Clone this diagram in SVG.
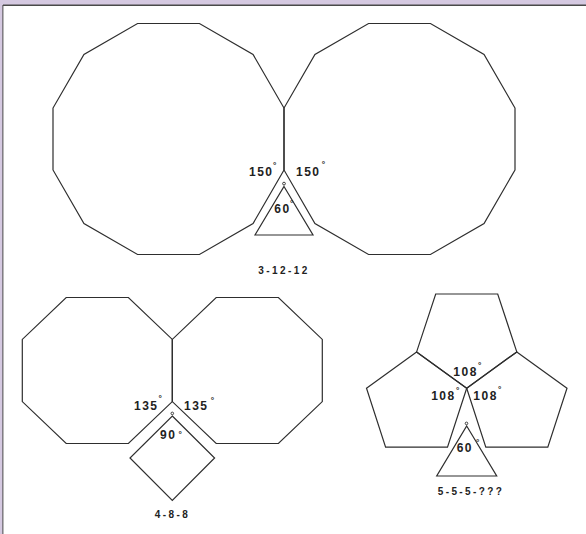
<svg xmlns="http://www.w3.org/2000/svg" width="586" height="534" viewBox="0 0 586 534">
<style>
.sh{fill:none;stroke:#2e2e2e;stroke-width:1.2;stroke-linejoin:miter}
.lb{font-family:"Liberation Sans",Arial,sans-serif;font-size:12px;font-weight:bold;fill:#222;letter-spacing:1.5px}
.cap{font-family:"Liberation Sans",Arial,sans-serif;font-size:10px;font-weight:bold;fill:#222;letter-spacing:2.4px;text-anchor:middle}
.dg{font-size:8.5px;letter-spacing:0}
.dot{fill:none;stroke:#2e2e2e;stroke-width:0.9}
</style>
<rect x="0" y="0" width="586" height="534" fill="#d5c9e1"/>
<rect x="3" y="5.5" width="583" height="528.5" fill="#ffffff"/>
<line x1="3" y1="5.3" x2="586" y2="5.3" stroke="#4a4a4a" stroke-width="1.6"/>
<line x1="2.9" y1="5" x2="2.9" y2="534" stroke="#4a4a4a" stroke-width="1"/>

<g id="fig-3-12-12">
<g id="dodecagon-left"><polygon class="sh" points="284,169.95 253.05,223.55 199.45,254.5 137.55,254.5 83.95,223.55 53,169.95 53,108.05 83.95,54.45 137.55,23.5 199.45,23.5 253.05,54.45 284,108.05"/></g>
<g id="dodecagon-right"><polygon class="sh" points="515,169.95 484.05,223.55 430.45,254.5 368.55,254.5 314.95,223.55 284,169.95 284,108.05 314.95,54.45 368.55,23.5 430.45,23.5 484.05,54.45 515,108.05"/></g>
<g id="triangle-1"><polygon class="sh" points="284,186.5 313,235 255,235"/><circle class="dot" cx="284" cy="183.6" r="1.4"/></g>
<g id="labels-1">
<text class="lb" x="249" y="176">150<tspan class="dg" x="273" y="167.9">°</tspan></text>
<text class="lb" x="296" y="176">150<tspan class="dg" x="321.7" y="167.3">°</tspan></text>
<text class="lb" x="274.3" y="213.3">60<tspan class="dg" x="290" y="206.3">°</tspan></text>
<text class="cap" x="284" y="274">3-12-12</text>
</g>
</g>

<g id="fig-4-8-8">
<g id="octagon-left"><polygon class="sh" points="66.2,297.5 128.4,297.5 172.3,339.4 172.3,401.6 128.4,443.5 66.2,443.5 22.3,401.6 22.3,339.4"/></g>
<g id="octagon-right"><polygon class="sh" points="216.2,297.5 278.4,297.5 322.3,339.4 322.3,401.6 278.4,443.5 216.2,443.5 172.3,401.6 172.3,339.4"/></g>
<g id="square"><polygon class="sh" points="172.3,416 214.6,458 172.3,500.3 130,458"/><circle class="dot" cx="172.3" cy="413.4" r="1.3"/></g>
<g id="labels-2">
<text class="lb" x="134" y="410">135<tspan class="dg" x="158.4" y="401.3" font-size="10px">°</tspan></text>
<text class="lb" x="184" y="410">135<tspan class="dg" x="210.7" y="402.9">°</tspan></text>
<text class="lb" x="160" y="439.3">90<tspan class="dg" x="178.6" y="437.3">°</tspan></text>
<text class="cap" x="172.5" y="518">4-8-8</text>
</g>
</g>

<g id="fig-5-5-5">
<g id="pentagon-top"><polygon class="sh" points="435.7,294 497.7,294 516.8,351.9 466.7,388.3 416.6,351.9"/></g>
<g id="pentagon-left"><polygon class="sh" points="466.7,388.3 447.5,447.2 385.6,447.2 366.5,388.3 416.6,351.9"/></g>
<g id="pentagon-right"><polygon class="sh" points="466.7,388.3 485.8,447.2 547.8,447.2 567,388.3 516.8,351.9"/></g>
<g id="triangle-3"><polygon class="sh" points="466.7,426 496.7,476 436.7,476"/><circle class="dot" cx="466.5" cy="423.4" r="1.3"/></g>
<g id="labels-3">
<text class="lb" x="453.3" y="376">108<tspan class="dg" x="478" y="367.9">°</tspan></text>
<text class="lb" x="431.2" y="400">108<tspan class="dg" x="456" y="392.9">°</tspan></text>
<text class="lb" x="473.3" y="400">108<tspan class="dg" x="498" y="391.9">°</tspan></text>
<text class="lb" x="456.7" y="452.3">60<tspan class="dg" x="476" y="445.3">°</tspan></text>
<text class="cap" x="471" y="495">5-5-5-???</text>
</g>
</g>
</svg>
